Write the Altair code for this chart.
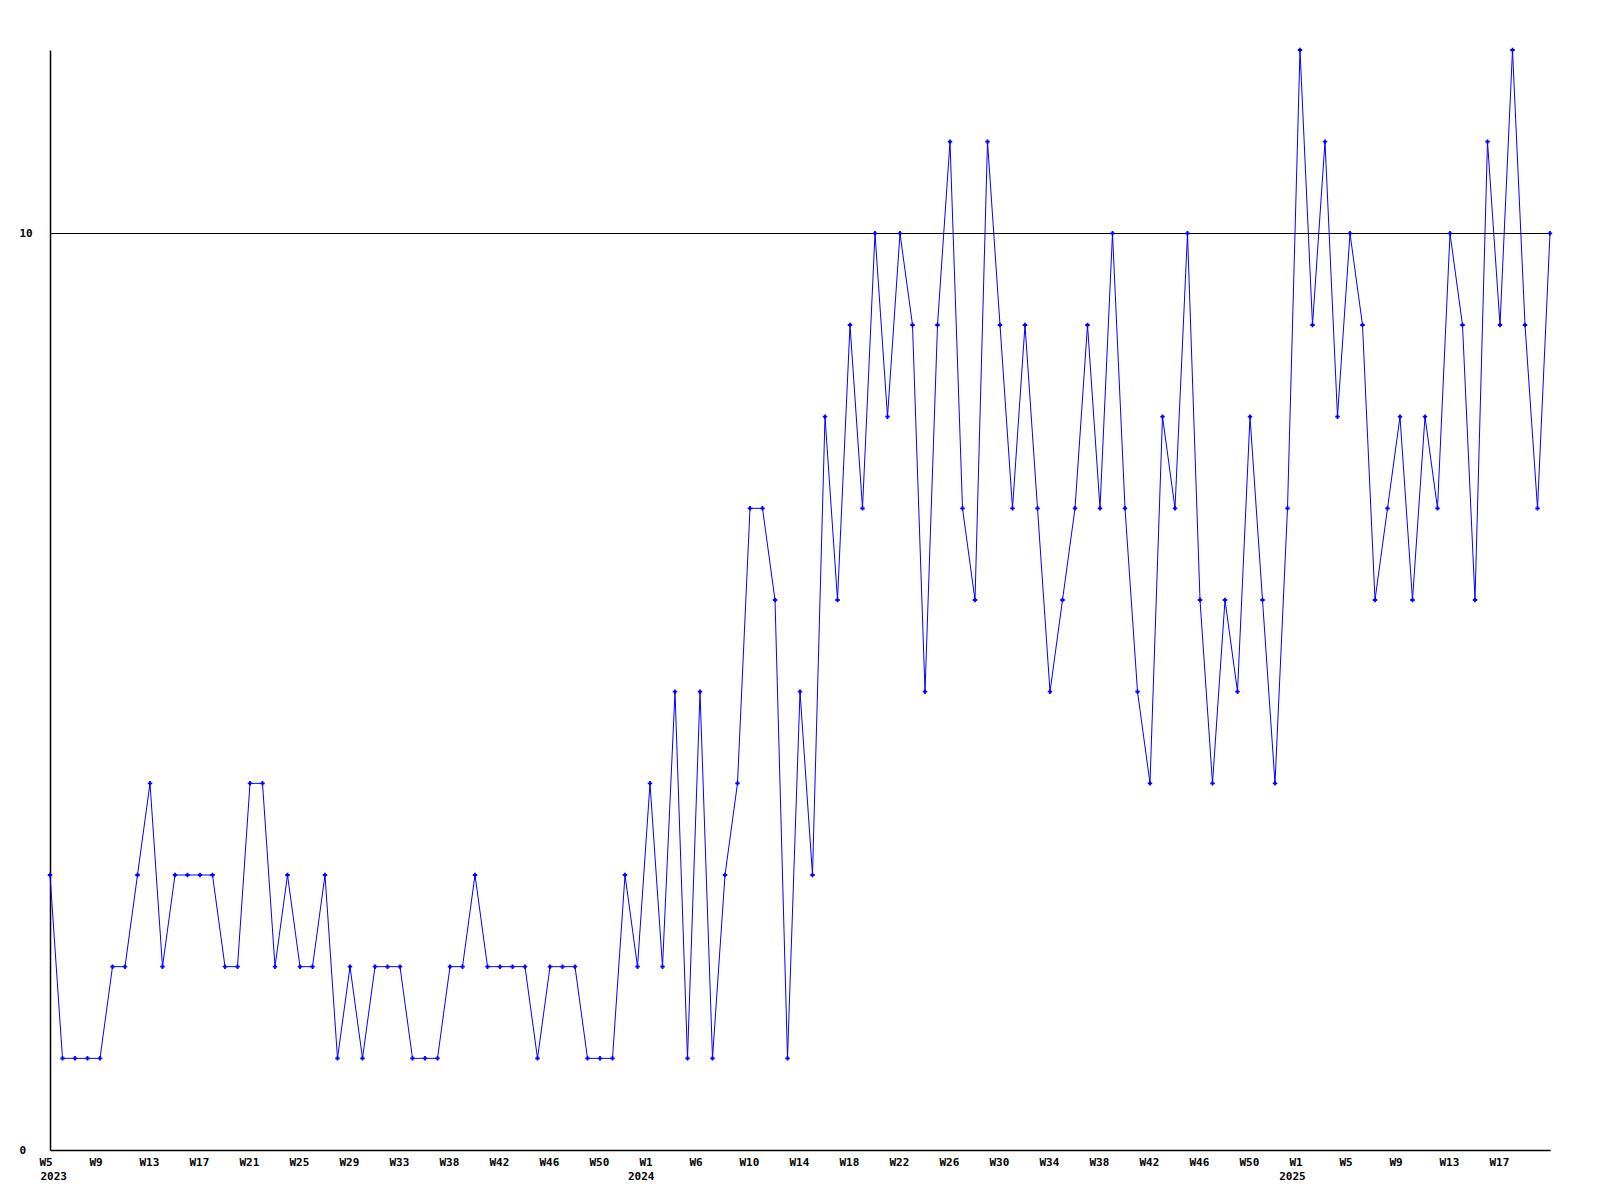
import altair as alt
import pandas as pd

# Weekly values, 2023-W5 .. 2025-W21 (121 weeks)
values = [3, 1, 1, 1, 1, 2, 2, 3, 4, 2, 3, 3, 3, 3, 2, 2, 4, 4, 2, 3, 2, 2, 3, 1, 2, 1, 2, 2, 2, 1, 1, 1,
          2, 2, 3, 2, 2, 2, 2, 1, 2, 2, 2, 1, 1, 1, 3, 2, 4, 2, 5, 1, 5, 1, 3, 4, 7, 7, 6, 1, 5, 3, 8,
          6, 9, 7, 10, 8, 10, 9, 5, 9, 11, 7, 6, 11, 9, 7, 9, 7, 5, 6, 7, 9, 7, 10, 7, 5, 4, 8, 7, 10, 6, 4,
          6, 5, 8, 6, 4, 7, 12, 9, 11, 8, 10, 9, 6, 7, 8, 6, 8, 7, 10, 9, 6, 11, 9, 12, 9, 7, 10]

tick_labels = ["W5", "W9", "W13", "W17", "W21", "W25", "W29", "W33", "W38", "W42", "W46", "W50",
               "W1", "W6", "W10", "W14", "W18", "W22", "W26", "W30", "W34", "W38", "W42", "W46", "W50",
               "W1", "W5", "W9", "W13", "W17"]
tick_index = [4 * k for k in range(len(tick_labels))]

year_labels = ["2023", "2024", "2025"]
year_index = [0.3, 47.3, 99.4]

FONT = "DejaVu Sans Mono"

df = pd.DataFrame({"i": list(range(len(values))), "v": values})
years = pd.DataFrame({"i": year_index, "t": year_labels})

label_expr = "[" + ",".join("'%s'" % t for t in tick_labels) + "][round(datum.value / 4)]"

xscale = alt.Scale(domain=[0, len(values) - 1], nice=False, zero=False)
yscale = alt.Scale(domain=[0, 12], nice=False, zero=True)

x_enc = alt.X("i:Q", scale=xscale,
              axis=alt.Axis(values=tick_index, labelExpr=label_expr, ticks=False, grid=False,
                            title=None, labelFont=FONT, labelFontSize=11, labelFontWeight="bold",
                            labelColor="black", domainColor="black", domainWidth=1.5,
                            labelPadding=6, labelAlign="left", labelOffset=-11,
                            labelFlush=False, labelOverlap=False))
y_enc = alt.Y("v:Q", scale=yscale,
              axis=alt.Axis(values=[0, 10], format="d", grid=True, gridColor="black", gridOpacity=1,
                            gridWidth=1, ticks=False, title=None, labelFont=FONT, labelFontSize=11,
                            labelFontWeight="bold", labelColor="black", labelAlign="left",
                            labelPadding=31, domainColor="black", domainWidth=1.5))

line = alt.Chart(df).mark_line(color="#0000FF", strokeWidth=1).encode(x=x_enc, y=y_enc)
pts = alt.Chart(df).mark_point(shape="cross", filled=True, size=20, color="#0000FF", opacity=1).encode(
    x="i:Q", y="v:Q")
yr = alt.Chart(years).mark_text(font=FONT, fontSize=11, fontWeight="bold", color="black",
                                baseline="middle", align="center").encode(
    x="i:Q", y=alt.value(1127), text="t:N")

chart = alt.layer(line, pts, yr).properties(
    width=1500, height=1100,
    autosize=alt.AutoSizeParams(type="none"),
    padding={"left": 42, "top": 42, "right": 42, "bottom": 50},
    background="white",
).configure_view(stroke=None)

chart.save("out.html", embed_options={"renderer": "svg", "actions": False})
